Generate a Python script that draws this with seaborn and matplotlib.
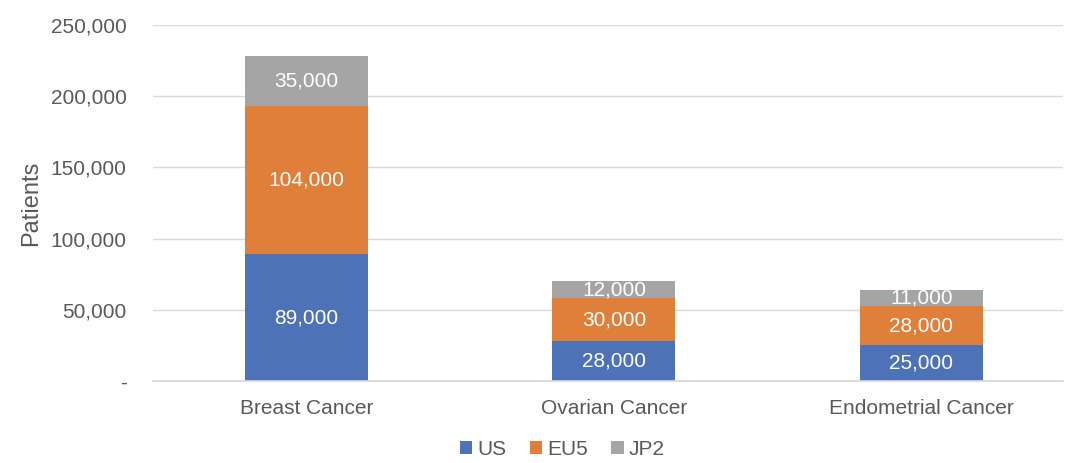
import numpy as np
import pandas as pd
import seaborn as sns
import matplotlib.pyplot as plt
from matplotlib.ticker import FuncFormatter

# Chart data
categories = ["Breast Cancer", "Ovarian Cancer", "Endometrial Cancer"]
series_names = ["US", "EU5", "JP2"]
us_values = [89000, 28000, 25000]
eu5_values = [104000, 30000, 28000]
jp2_values = [35000, 12000, 11000]
y_ticks = [0, 50000, 100000, 150000, 200000, 250000]

colors = {"US": "#4E72B8", "EU5": "#E07F3A", "JP2": "#A5A5A5"}
text_gray = "#595959"

sns.set_theme(style="white")
plt.rcParams['font.family'] = ['Liberation Sans', 'DejaVu Sans']

fig = plt.figure(figsize=(10.65, 4.63), dpi=100)
ax = fig.add_axes([0.1437, 0.177, 0.854, 0.769])

bottoms = np.zeros(len(categories))
for name, vals in zip(series_names, [us_values, eu5_values, jp2_values]):
    sns.barplot(x=categories, y=vals, bottom=bottoms, color=colors[name],
                width=0.4, ax=ax, label=name, saturation=1, linewidth=0)
    bar_cont = ax.containers[-1]
    ax.bar_label(bar_cont, labels=[f"{v:,}" for v in vals], label_type="center",
                 color="white", fontsize=15)
    bottoms = bottoms + np.array(vals)

ax.set_xlim(-0.5, 2.46)
ax.set_ylim(0, 250000)
ax.set_yticks(y_ticks)
ax.yaxis.set_major_formatter(FuncFormatter(lambda v, p: "-" if v == 0 else f"{int(v):,}"))
ax.yaxis.grid(True, color="#D9D9D9", linewidth=1)
ax.set_axisbelow(True)
for s in ["top", "right", "left"]:
    ax.spines[s].set_visible(False)
ax.spines["bottom"].set_color("#D9D9D9")
ax.tick_params(axis="both", length=0, labelsize=15, labelcolor=text_gray)
ax.tick_params(axis="y", pad=19)
ax.tick_params(axis="x", pad=13)
ax.set_ylabel("Patients", fontsize=17, color=text_gray, labelpad=6)
ax.set_xlabel("")

ax.legend(loc="upper center", bbox_to_anchor=(0.45, -0.125), ncol=3, frameon=False,
          fontsize=15, labelcolor=text_gray, handlelength=0.6, handleheight=0.6,
          handletextpad=0.25, columnspacing=1.1, borderpad=0.2)

fig.savefig("out.png", dpi=100)
